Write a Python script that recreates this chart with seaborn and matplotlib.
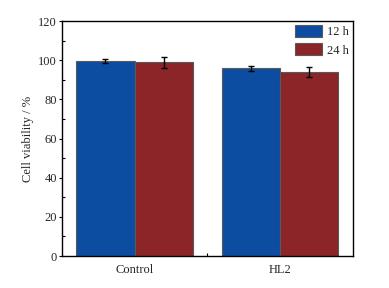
import matplotlib
matplotlib.use('Agg')
import matplotlib.pyplot as plt
import seaborn as sns
import pandas as pd
from matplotlib.ticker import MultipleLocator

groups = ['Control', 'Control', 'HL2', 'HL2']
times = ['12 h', '24 h', '12 h', '24 h']
viability = [99.4, 98.9, 95.9, 93.8]
err = [1.0, 2.9, 1.2, 2.6]
palette = {'12 h': '#0C4DA2', '24 h': '#8B2528'}

data = pd.DataFrame({'group': groups, 'time': times, 'viability': viability, 'err': err})

sns.set_theme(style='ticks')
plt.rcParams['font.family'] = ['Liberation Serif', 'DejaVu Serif']
plt.rcParams['mathtext.fontset'] = 'stix'

fig = plt.figure(figsize=(3.89, 2.88), dpi=100)
ax = fig.add_axes([0.159, 0.111, 0.748, 0.816])
sns.barplot(data=data, x='group', y='viability', hue='time', palette=palette,
            errorbar=None, width=0.8, edgecolor='#5a5a5a', linewidth=0.8,
            saturation=1, ax=ax)

# error bars on bar centres
for cont, t in zip(ax.containers, ['12 h', '24 h']):
    sub = data[data['time'] == t]
    xs = [b.get_x() + b.get_width() / 2 for b in cont]
    ax.errorbar(xs, sub['viability'], yerr=sub['err'], fmt='none',
                ecolor='black', elinewidth=1, capsize=2.5, capthick=1)

ax.set_xlim(-0.5, 1.5)
ax.set_ylim(0, 120)
ax.set_xlabel('')
ax.set_ylabel('Cell viability / %', fontsize=9, labelpad=3)
ax.yaxis.set_major_locator(MultipleLocator(20))
ax.yaxis.set_minor_locator(MultipleLocator(10))
ax.set_xticks([0, 1])
ax.set_xticks([0.5], minor=True)
ax.tick_params(axis='both', which='major', direction='out', length=2.5, width=0.8,
               labelsize=9, color='black', pad=1)
ax.tick_params(axis='x', which='major', length=0, pad=6)
ax.tick_params(axis='both', which='minor', direction='in', length=2.5, width=0.8, color='black')
for s in ax.spines.values():
    s.set_visible(True)
    s.set_linewidth(1)
    s.set_color('black')

ax.legend(loc='upper right', frameon=False, fontsize=9, handlelength=2.1,
          handleheight=1.05, handletextpad=0.4, labelspacing=0.4,
          borderaxespad=0.2, borderpad=0.15, title=None)

fig.savefig('out.png', dpi=100)
